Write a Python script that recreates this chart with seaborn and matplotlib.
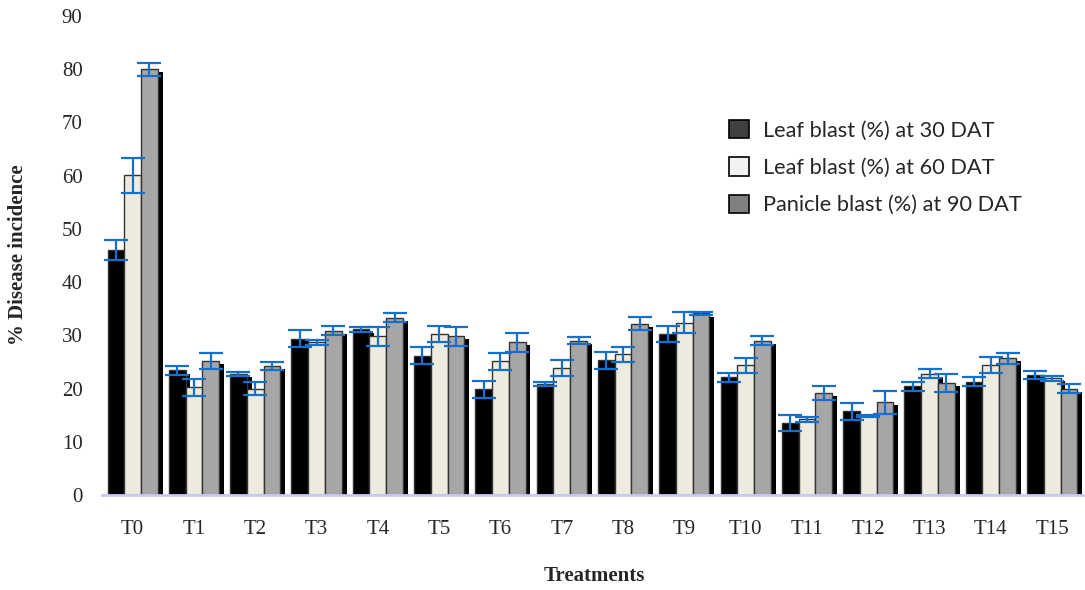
import matplotlib
matplotlib.use('Agg')

import pandas as pd
import seaborn as sns
import matplotlib.pyplot as plt
import matplotlib.patheffects as pe
from matplotlib.patches import Patch

# data
treatments = ['T0', 'T1', 'T2', 'T3', 'T4', 'T5', 'T6', 'T7',
              'T8', 'T9', 'T10', 'T11', 'T12', 'T13', 'T14', 'T15']
series = ['Leaf blast (%) at 30 DAT', 'Leaf blast (%) at 60 DAT', 'Panicle blast (%) at 90 DAT']

leaf_30 = [46.1, 23.4, 22.8, 29.4, 31.1, 26.2, 19.9, 20.9, 25.3, 30.3, 22.1, 13.5, 15.7, 20.4, 21.3, 22.5]
leaf_60 = [60.1, 20.2, 20.0, 28.7, 29.8, 30.3, 25.1, 23.8, 26.4, 32.4, 24.4, 14.2, 14.8, 22.8, 24.4, 21.9]
panicle_90 = [80.0, 25.1, 24.2, 30.9, 33.3, 29.8, 28.7, 29.0, 32.2, 34.1, 29.0, 19.1, 17.4, 21.0, 25.7, 20.0]

err_30 = [1.9, 0.8, 0.4, 1.6, 0.5, 1.6, 1.6, 0.4, 1.6, 1.5, 0.9, 1.5, 1.6, 0.8, 0.9, 0.8]
err_60 = [3.3, 1.6, 1.3, 0.5, 1.8, 1.5, 1.6, 1.5, 1.4, 1.9, 1.4, 0.5, 0.2, 0.8, 1.5, 0.5]
err_90 = [1.2, 1.5, 0.7, 0.8, 0.8, 1.8, 1.8, 0.6, 1.2, 0.3, 0.9, 1.3, 2.1, 1.7, 1.0, 0.8]

bar_colors = ['#000000', '#EDEBE0', '#A6A6A6']
legend_colors = ['#404040', '#F2F2F2', '#808080']
err_color = '#1570CC'
axis_color = '#C9C9F2'

sns.set_style("white")
plt.rcParams['font.family'] = ['Liberation Serif', 'DejaVu Serif']


def main():
	df = pd.DataFrame({
		'treatment': treatments * 3,
		'series': [s for s in series for _ in treatments],
		'value': leaf_30 + leaf_60 + panicle_90,
	})
	errs = [err_30, err_60, err_90]

	fig = plt.figure(figsize=(10.85, 5.9), dpi=100)
	ax = fig.add_axes([0.094, 0.161, 0.904, 0.812])

	sns.barplot(data=df, x='treatment', y='value', hue='series', order=treatments,
				hue_order=series, palette=bar_colors, saturation=1, width=0.82,
				errorbar=None, edgecolor='#333333', linewidth=1, legend=False, ax=ax)

	# black drop shadow behind every bar
	shadow = [pe.SimplePatchShadow(offset=(3.5, -2.2), shadow_rgbFace='black', alpha=1.0), pe.Normal()]
	for cont, e in zip(ax.containers, errs):
		xs = []
		ys = []
		for bar in cont:
			bar.set_path_effects(shadow)
			xs.append(bar.get_x() + bar.get_width() / 2)
			ys.append(bar.get_height())
		ax.errorbar(xs, ys, yerr=e, fmt='none', ecolor=err_color, elinewidth=1.6,
					capsize=8.5, capthick=1.6, zorder=5)

	ax.set_ylim(0, 90)
	ax.set_xlim(-0.5, len(treatments) - 0.5)
	ax.set_yticks(range(0, 91, 10))
	ax.set_xlabel('')
	ax.set_ylabel('')

	for s in ['left', 'right', 'top']:
		ax.spines[s].set_visible(False)
	ax.spines['bottom'].set_color(axis_color)
	ax.spines['bottom'].set_linewidth(2)

	ax.set_xticks([i - 0.5 for i in range(len(treatments) + 1)], minor=True)
	ax.tick_params(axis='x', which='minor', length=5, width=1.5, color=axis_color, direction='out')
	ax.tick_params(axis='x', which='major', length=0, pad=18, labelsize=15)
	ax.tick_params(axis='y', length=0, pad=14, labelsize=15)

	handles = [Patch(facecolor=c, edgecolor='black', linewidth=1.2) for c in legend_colors]
	fig.legend(handles, series, loc='upper left', bbox_to_anchor=(729 / 1085, 1 - 120 / 590),
			   bbox_transform=fig.transFigure, frameon=False, borderpad=0, borderaxespad=0,
			   handlelength=0.92, handleheight=0.92, handletextpad=0.64, labelspacing=0.76,
			   prop={'family': 'Lato', 'size': 15.7})

	fig.text(18 / 1085, 1 - 255 / 590, '% Disease incidence', rotation=90, ha='center',
			 va='center', fontsize=15, fontweight='bold')
	fig.text(594 / 1085, 1 - 576 / 590, 'Treatments', ha='center', va='center',
			 fontsize=15, fontweight='bold')

	plt.savefig('out.png', dpi=100)


if __name__ == '__main__':
	main()
